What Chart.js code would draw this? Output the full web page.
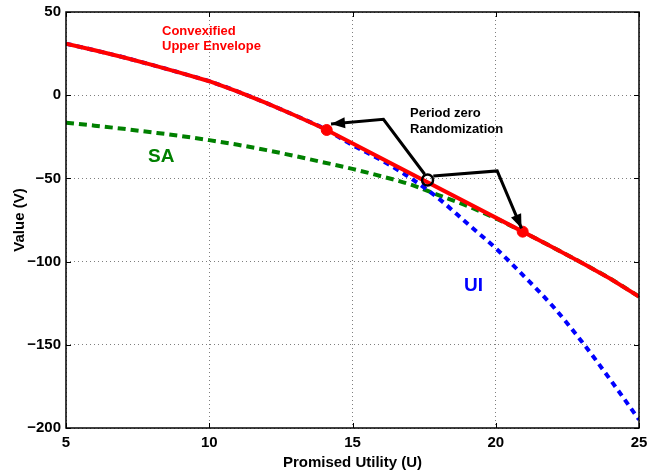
<!DOCTYPE html>
<html>
<head>
<meta charset="utf-8">
<script src="https://cdn.jsdelivr.net/npm/chart.js@4"></script>
<style>
html,body{margin:0;padding:0;background:#fff;}
#wrap{width:648px;height:474px;}
</style>
</head>
<body>
<div id="wrap"><canvas id="c" width="648" height="474"></canvas></div>
<script>
// ---- data ----
const xTickValues = [5, 10, 15, 20, 25];
const yTickValues = [-200, -150, -100, -50, 0, 50];

const uiX = [5, 6, 7, 8, 9, 10, 11, 12, 13, 14, 15, 16, 17, 18, 19, 20, 21, 22, 23, 24, 25];
const uiY = [31, 27, 22.8, 18.2, 13.4, 8.4, 2.2, -4.8, -12.2, -20, -30, -39, -49.5, -62, -77, -92, -109, -127, -148, -171, -195];

const saX = [5, 6, 7, 8, 9, 10, 11, 12, 13, 14, 15, 16, 17, 18, 19, 20, 21, 22, 23, 24, 25];
const saY = [-16.5, -18.3, -20.2, -22.3, -24.5, -27, -29.8, -33, -36.6, -40.4, -44.3, -48.7, -53.5, -60, -66.5, -74, -82.6, -91.5, -100.7, -110.3, -121];

const envX = [5, 6, 7, 8, 9, 10, 11, 12, 13, 14, 14.1, 20.94, 22, 23, 24, 25];
const envY = [31, 27, 22.8, 18.2, 13.4, 8.4, 2.2, -4.8, -12.2, -20, -20.9, -82, -91.5, -100.7, -110.3, -121];

const dotX = [14.1, 20.94];
const dotY = [-20.9, -82];

const circX = [17.62];
const circY = [-51];

const arrow1X = [17.52, 16.08, 14.25];
const arrow1Y = [-47.5, -14.5, -17.3];
const arrow2X = [17.82, 20.05, 20.9];
const arrow2Y = [-48.5, -45.5, -80];

const labelConvex = ['Convexified', 'Upper Envelope'];
const labelPeriod = ['Period zero', 'Randomization'];
const labelSA = 'SA';
const labelUI = 'UI';

const pts = (xs, ys) => xs.map((x, i) => ({x: x, y: ys[i]}));
const FONT = "'Liberation Sans', Arial, Helvetica, sans-serif";

const decorPlugin = {
  id: 'decor',
  afterDatasetsDraw(chart) {
    const ctx = chart.ctx;
    const xs = chart.scales.x, ys = chart.scales.y;
    const a = chart.chartArea;
    // arrowheads
    const heads = [[arrow1X, arrow1Y], [arrow2X, arrow2Y]];
    ctx.save();
    ctx.fillStyle = '#000';
    heads.forEach(([ax, ay]) => {
      const n = ax.length;
      const tx = xs.getPixelForValue(ax[n - 1]), ty = ys.getPixelForValue(ay[n - 1]);
      const px = xs.getPixelForValue(ax[n - 2]), py = ys.getPixelForValue(ay[n - 2]);
      const ang = Math.atan2(ty - py, tx - px);
      const L = 14, W = 5.5;
      ctx.beginPath();
      ctx.moveTo(tx, ty);
      ctx.lineTo(tx - L * Math.cos(ang) + W * Math.sin(ang), ty - L * Math.sin(ang) - W * Math.cos(ang));
      ctx.lineTo(tx - L * Math.cos(ang) - W * Math.sin(ang), ty - L * Math.sin(ang) + W * Math.cos(ang));
      ctx.closePath();
      ctx.fill();
    });
    ctx.restore();

    // frame and inward ticks
    ctx.save();
    ctx.strokeStyle = '#000';
    ctx.lineWidth = 1.5;
    ctx.strokeRect(a.left, a.top, a.right - a.left, a.bottom - a.top);
    ctx.lineWidth = 1;
    ctx.beginPath();
    xTickValues.forEach(v => {
      const p = Math.round(xs.getPixelForValue(v)) + 0.5;
      ctx.moveTo(p, a.bottom); ctx.lineTo(p, a.bottom - 5);
      ctx.moveTo(p, a.top); ctx.lineTo(p, a.top + 5);
    });
    yTickValues.forEach(v => {
      const p = Math.round(ys.getPixelForValue(v)) + 0.5;
      ctx.moveTo(a.left, p); ctx.lineTo(a.left + 5, p);
      ctx.moveTo(a.right, p); ctx.lineTo(a.right - 5, p);
    });
    ctx.stroke();
    ctx.restore();

    // text annotations
    ctx.save();
    ctx.textBaseline = 'alphabetic';
    ctx.textAlign = 'left';
    ctx.fillStyle = '#ff0000';
    ctx.font = 'bold 13px ' + FONT;
    ctx.fillText(labelConvex[0], 162, 35);
    ctx.fillText(labelConvex[1], 162, 50);
    ctx.fillStyle = '#000';
    ctx.fillText(labelPeriod[0], 410, 117);
    ctx.fillText(labelPeriod[1], 410, 133);
    ctx.font = 'bold 19px ' + FONT;
    ctx.fillStyle = '#008000';
    ctx.fillText(labelSA, 148, 162);
    ctx.fillStyle = '#0000ff';
    ctx.fillText(labelUI, 464, 291);
    ctx.restore();
  }
};

new Chart(document.getElementById('c'), {
  type: 'scatter',
  data: {
    datasets: [
      {label: 'SA', data: pts(saX, saY), showLine: true, borderColor: '#008000', borderWidth: 4,
       borderDash: [8, 5], pointRadius: 0, cubicInterpolationMode: 'monotone', order: 6},
      {label: 'UI', data: pts(uiX, uiY), showLine: true, borderColor: '#0000ff', borderWidth: 4,
       borderDash: [6, 5], pointRadius: 0, cubicInterpolationMode: 'monotone', order: 5},
      {label: 'Envelope', data: pts(envX, envY), showLine: true, borderColor: '#ff0000', borderWidth: 4,
       pointRadius: 0, tension: 0, order: 4},
      {label: 'Dots', data: pts(dotX, dotY), showLine: false, pointRadius: 5.5, pointBackgroundColor: '#ff0000',
       pointBorderColor: '#ff0000', order: 3},
      {label: 'Arrow1', data: pts(arrow1X, arrow1Y), showLine: true, borderColor: '#000', borderWidth: 3,
       pointRadius: 0, tension: 0, order: 2},
      {label: 'Arrow2', data: pts(arrow2X, arrow2Y), showLine: true, borderColor: '#000', borderWidth: 3,
       pointRadius: 0, tension: 0, order: 2},
      {label: 'Circle', data: pts(circX, circY), showLine: false, pointRadius: 5.5, pointBorderWidth: 2.5,
       pointBackgroundColor: 'rgba(0,0,0,0)', pointBorderColor: '#000', order: 1}
    ]
  },
  options: {
    responsive: false,
    animation: false,
    events: [],
    layout: {padding: {top: 12, right: 9, left: 0, bottom: 0}},
    plugins: {legend: {display: false}, tooltip: {enabled: false}},
    scales: {
      x: {
        type: 'linear', min: 5, max: 25,
        afterBuildTicks: s => { s.ticks = xTickValues.map(v => ({value: v})); },
        afterFit: s => { s.height = 46; s.paddingLeft = 0; s.paddingRight = 0; },
        grid: {color: 'rgba(0,0,0,0.5)', lineWidth: 1, drawTicks: false},
        border: {display: false, dash: [1, 3]},
        ticks: {color: '#000', font: {family: FONT, size: 15, weight: 'bold'}, padding: 6,
                maxRotation: 0, autoSkip: false},
        title: {display: true, text: 'Promised Utility (U)', color: '#000',
                font: {family: FONT, size: 15, weight: 'bold'}, padding: {top: 0, bottom: 2}}
      },
      y: {
        type: 'linear', min: -200, max: 50,
        afterBuildTicks: s => { s.ticks = yTickValues.map(v => ({value: v})); },
        afterFit: s => { s.width = 66; s.paddingTop = 0; s.paddingBottom = 0; },
        grid: {color: 'rgba(0,0,0,0.5)', lineWidth: 1, drawTicks: false},
        border: {display: false, dash: [1, 3]},
        ticks: {color: '#000', font: {family: FONT, size: 15, weight: 'bold'}, padding: 5,
                callback: v => String(v).replace('-', '\u2212')},
        title: {display: true, text: 'Value (V)', color: '#000',
                font: {family: FONT, size: 15, weight: 'bold'}, padding: {top: 11, bottom: 0}}
      }
    }
  },
  plugins: [decorPlugin]
});
</script>
</body>
</html>
